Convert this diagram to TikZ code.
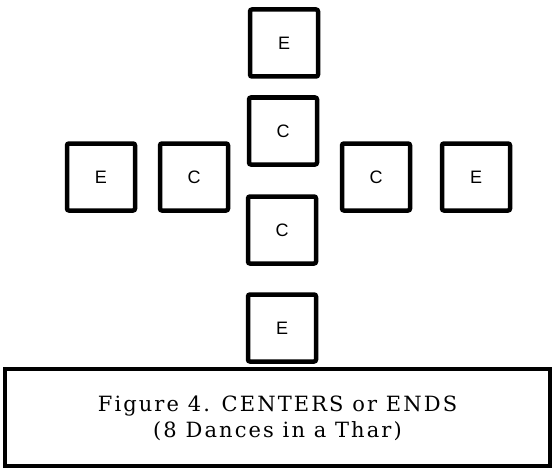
\documentclass[tikz,border=0pt]{standalone}
\usepackage{fontspec}
\setmainfont{DejaVu Serif}
\setsansfont{Liberation Sans}
\usepackage{tikz}
\tikzstyle{dancer} = [rectangle, rounded corners=2pt, minimum width=68pt, minimum height=67pt, text centered, draw=black, line width=4.5pt, font=\sffamily\fontsize{18}{18}\selectfont]
\tikzstyle{caption} = [rectangle, minimum width=545pt, minimum height=97pt, draw=black, line width=3.5pt]

\begin{document}
\begin{tikzpicture}[x=1pt, y=-1pt]
  \useasboundingbox (0,0) rectangle (553,468);

  \node (top end) [dancer] at (284,43) {E};
  \node (top center) [dancer] at (283,131) {C};
  \node (bottom center) [dancer] at (282,230) {C};
  \node (bottom end) [dancer] at (282,328) {E};
  \node (left end) [dancer] at (101,177) {E};
  \node (left center) [dancer] at (194,177) {C};
  \node (right center) [dancer] at (376,177) {C};
  \node (right end) [dancer] at (476,177) {E};

  \node (caption box) [caption] at (277.5,417.5) {};
  \node (caption text) [align=center, anchor=base, font=\fontsize{21}{26}\selectfont\addfontfeatures{LetterSpace=10}] at (277.5,437) {Figure 4. CENTERS or ENDS\\(8 Dances in a Thar)};

\end{tikzpicture}
\end{document}
